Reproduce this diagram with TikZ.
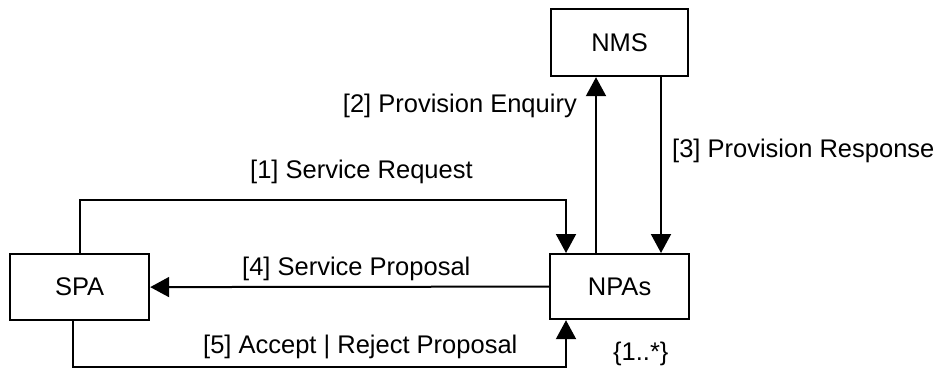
\documentclass[tikz,border=0pt]{standalone}
\usepackage{fontspec}
\setmainfont{Liberation Sans}
\usetikzlibrary{arrows.meta}
\begin{document}
\begin{tikzpicture}[x=1pt,y=-1pt,
  font=\fontsize{25.5}{30}\selectfont,
  boxnode/.style={draw,line width=2.2pt,inner sep=0pt,anchor=north west},
  lbl/.style={inner sep=0pt},
  conn/.style={line width=2pt},
  arr/.style={conn,-{Triangle[length=19pt,width=20pt]}}]
\useasboundingbox (0,0) rectangle (940,369);
\node[boxnode,minimum width=137pt,minimum height=67pt] (NMS) at (550,8) {NMS};
\node[boxnode,minimum width=139pt,minimum height=65pt] (NPAs) at (549,253) {NPAs};
\node[boxnode,minimum width=139pt,minimum height=66pt] (SPA) at (9,253) {SPA};
% helper coordinates
\coordinate (c1) at (566,200);
\coordinate (x2) at (596,0);
\coordinate (x3) at (661,0);
\coordinate (x5) at (73,0);
\coordinate (c5) at (566,366.5);
% connectors
\draw[arr] (SPA.north) |- (c1) -- (c1 |- NPAs.north);
\draw[arr] (x2 |- NPAs.north) -- (x2 |- NMS.south);
\draw[arr] (x3 |- NMS.south) -- (x3 |- NPAs.north);
\draw[arr] (NPAs.west) -- (SPA.east);
\draw[arr] (x5 |- SPA.south) |- (c5) -- (c5 |- NPAs.south);
% labels
\node[lbl,anchor=base west] (l1) at (250,178) {[1] Service Request};
\node[lbl,anchor=base east] (l2) at (577,112) {[2] Provision Enquiry};
\node[lbl,anchor=base west] (l3) at (672,157) {[3] Provision Response};
\node[lbl,anchor=base west] (l4) at (242,275) {[4] Service Proposal};
\node[lbl,anchor=base west] (l5) at (203,353) {[5] Accept | Reject Proposal};
\node[lbl,anchor=base west] (l6) at (613,360) {\{1..*\}};
\end{tikzpicture}
\end{document}
